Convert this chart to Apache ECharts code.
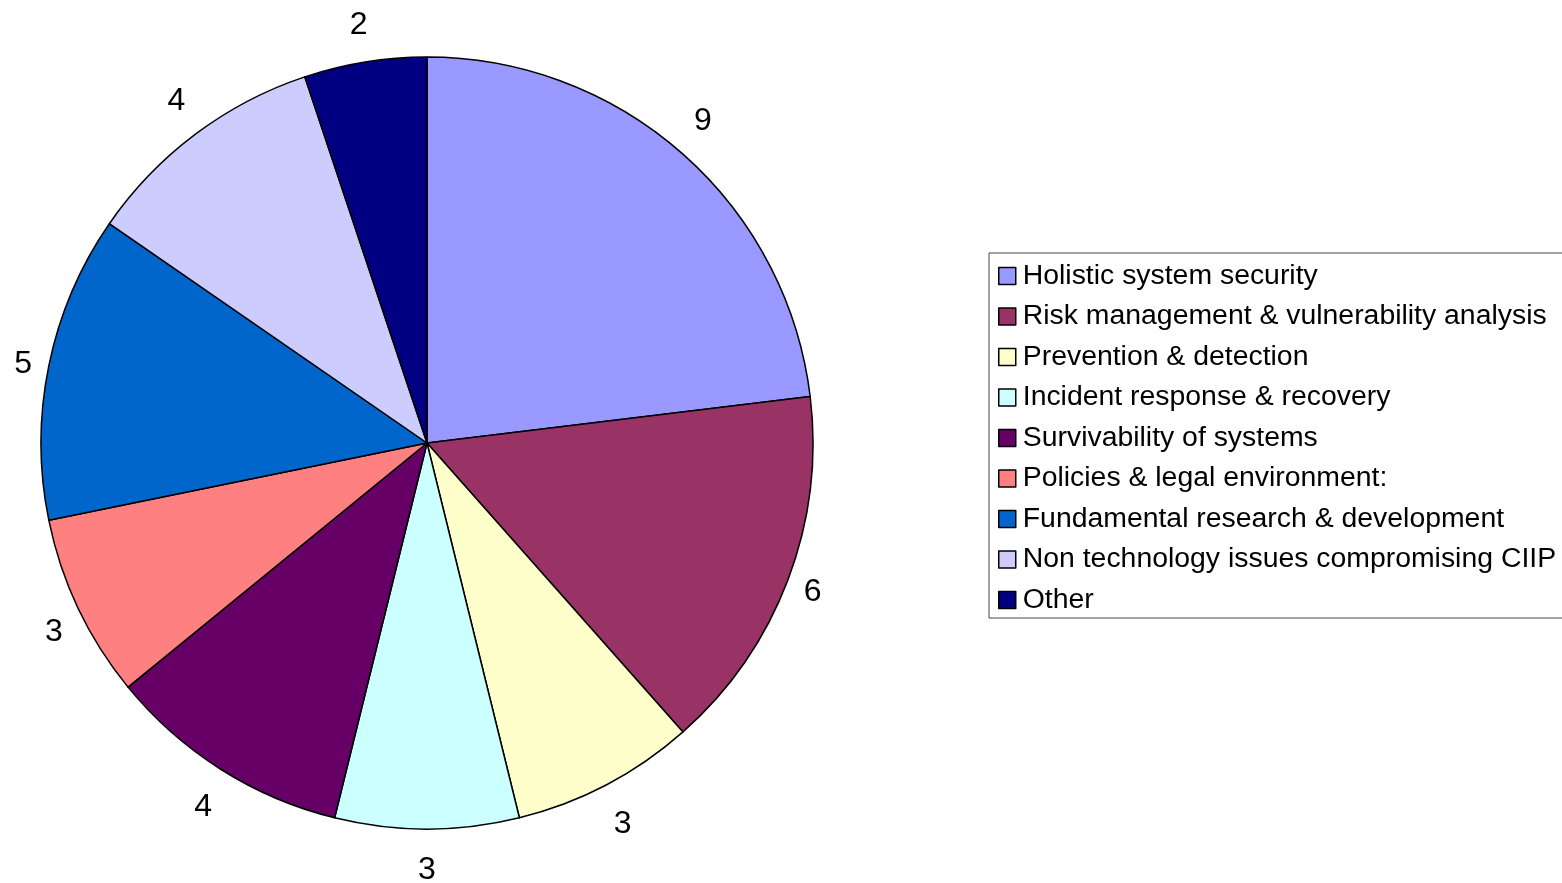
<!DOCTYPE html>
<html><head><meta charset="utf-8">
<script src="https://cdn.jsdelivr.net/npm/echarts@6/dist/echarts.min.js"></script>
<style>html,body{margin:0;padding:0;background:#fff}#c{width:1562px;height:883px}</style>
</head><body><div id="c"></div>
<script>
const categories = ["Holistic system security","Risk management & vulnerability analysis","Prevention & detection","Incident response & recovery","Survivability of systems","Policies & legal environment:","Fundamental research & development","Non technology issues compromising CIIP","Other"];
const values = [9,6,3,3,4,3,5,4,2];
const colors = ["#9999FF","#993366","#FFFFCC","#CCFFFF","#660066","#FF8080","#0066CC","#CCCCFF","#000080"];

const CX = 427, CY = 443, R = 386;
const total = values.reduce((a,b)=>a+b,0);
// Excel-like label placement: label box just outside the rim along the slice's mid angle
function labelPos(idx){
  let cum = 0;
  for (let i=0;i<idx;i++) cum += values[i];
  const th = (cum + values[idx]/2)/total*2*Math.PI;
  const ux = Math.sin(th), uy = -Math.cos(th);
  const Rl = R + 18, hw = 8, hh = 21;
  const sx = Math.sign(ux)*Math.min(1, Math.abs(ux)/0.35);
  const sy = Math.sign(uy)*Math.max(0, Math.min(1, (Math.abs(uy)-0.33)/0.15));
  return [CX + Rl*ux + hw*sx, CY + Rl*uy + hh*sy + 2];
}

const chart = echarts.init(document.getElementById('c'));
chart.setOption({
  animation:false,
  backgroundColor:'#fff',
  legend:{
    orient:'vertical', left:989, top:253,
    itemWidth:17, itemHeight:17, itemGap:10.5,
    padding:[8,20,3,9],
    borderColor:'#444', borderWidth:1,
    icon:'rect',
    itemStyle:{borderColor:'#000', borderWidth:1.5},
    textStyle:{fontFamily:'Liberation Sans, Arial, sans-serif', fontSize:28.4, color:'#000', lineHeight:30, padding:[0,0,0,2]},
    data:categories
  },
  series:[{
    type:'pie', center:[CX,CY], radius:R, startAngle:90, clockwise:true,
    avoidLabelOverlap:false,
    data:categories.map((n,i)=>({name:n,value:values[i],itemStyle:{color:colors[i]}})),
    itemStyle:{borderColor:'#000', borderWidth:1.5},
    emphasis:{disabled:true},
    label:{show:true, position:'outside', formatter:'{c}', fontFamily:'Liberation Sans, Arial, sans-serif', fontSize:32, color:'#000', distanceToLabelLine:0},
    labelLine:{show:false, length:18, length2:0},
    labelLayout:function(p){
      const pos = labelPos(p.dataIndex);
      return {x: pos[0], y: pos[1], align:'center', verticalAlign:'middle'};
    }
  }]
});
</script></body></html>
